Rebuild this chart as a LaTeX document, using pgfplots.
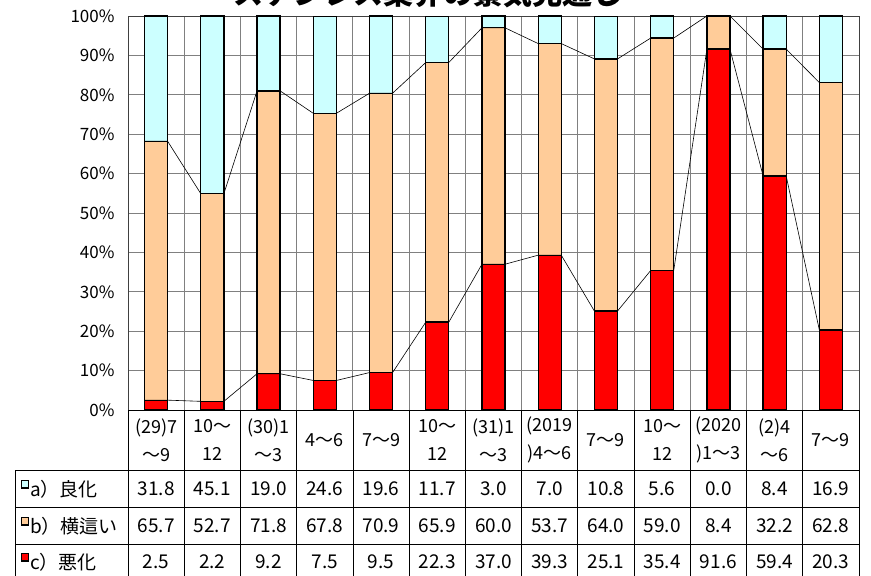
\documentclass[border=0pt]{standalone}
\usepackage{fontspec}
\setmainfont{Noto Sans CJK JP}
\usepackage{pgfplots}
\pgfplotsset{compat=1.18}
\usepackage{pgfplotstable}
\definecolor{ca}{HTML}{CCFFFF}
\definecolor{cb}{HTML}{FFCC99}
\definecolor{cc}{HTML}{FF0000}
\definecolor{gridc}{HTML}{808080}
\definecolor{axc}{HTML}{404040}

\pgfplotstableread{
x c b a
0 2.5 65.7 31.8
1 2.2 52.7 45.1
2 9.2 71.8 19.0
3 7.5 67.8 24.6
4 9.5 70.9 19.6
5 22.3 65.9 11.7
6 37.0 60.0 3.0
7 39.3 53.7 7.0
8 25.1 64.0 10.8
9 35.4 59.0 5.6
10 91.6 8.4 0.0
11 59.4 32.2 8.4
12 20.3 62.8 16.9
}\data

\pgfplotstableread{
x c b
-0.205 2.5 65.7
0.205 2.5 65.7
0.795 2.2 52.7
1.205 2.2 52.7
1.795 9.2 71.8
2.205 9.2 71.8
2.795 7.5 67.8
3.205 7.5 67.8
3.795 9.5 70.9
4.205 9.5 70.9
4.795 22.3 65.9
5.205 22.3 65.9
5.795 37.0 60.0
6.205 37.0 60.0
6.795 39.3 53.7
7.205 39.3 53.7
7.795 25.1 64.0
8.205 25.1 64.0
8.795 35.4 59.0
9.205 35.4 59.0
9.795 91.6 8.4
10.205 91.6 8.4
10.795 59.4 32.2
11.205 59.4 32.2
11.795 20.3 62.8
12.205 20.3 62.8
}\lines

\begin{document}
\begin{tikzpicture}[x=1pt,y=1pt]
\pgfplotsset{
  common/.style={
    at={(128pt,-410pt)}, anchor=south west,
    scale only axis, width=731pt, height=394pt,
    xmin=-0.5, xmax=12.5, ymin=0, ymax=100,
  }
}
\begin{axis}[
  common,
  ybar stacked, bar width=0.41,
  ytick={0,10,...,100},
  yticklabels={0\%,10\%,20\%,30\%,40\%,50\%,60\%,70\%,80\%,90\%,100\%},
  xtick={0,...,12},
  xticklabels={{(29)7\\～9},{10～\\12},{(30)1\\～3},{4～6},{7～9},{10～\\12},{(31)1\\～3},{(2019\\)4～6},{7～9},{10～\\12},{(2020\\)1～3},{(2)4\\～6},{7～9}},
  minor xtick={0.5,1.5,...,11.5},
  xminorgrids=true, ymajorgrids=true,
  major tick length=0pt, minor tick length=0pt,
  grid style={gridc, line width=0.9pt},
  minor grid style={gridc, line width=0.9pt},
  axis line style={axc, line width=1pt},
  /pgf/number format/assume math mode=true,
  y tick label style={font=\fontsize{17}{18}\selectfont, xshift=-10pt},
  x tick label style={font=\fontsize{18}{28}\selectfont, align=center, anchor=center, yshift=-30pt},
  every axis plot/.append style={draw=black, line width=1.3pt},
  clip=false,
]
\addplot[fill=cc] table[x=x, y=c] {\data};
\addplot[fill=cb] table[x=x, y=b] {\data};
\addplot[fill=ca] table[x=x, y=a] {\data};
\end{axis}
\begin{axis}[
  common, axis lines=none, ticks=none, stack plots=y,
]
\addplot[black, line width=0.6pt, mark=none] table[x=x, y=c] {\lines};
\addplot[black, line width=0.6pt, mark=none] table[x=x, y=b] {\lines};
\end{axis}
% title
\node[anchor=base, font=\fontsize{30}{32}\selectfont\bfseries] at (428,-4.5) {ステンレス業界の景気見通し};
% table grid
\foreach \k in {0,...,13} {
  \draw[black, line width=0.8pt] ({128+56.23*\k},-410) -- ({128+56.23*\k},-580);
}
\draw[black, line width=0.8pt] (15.7,-470) -- (15.7,-580);
\foreach \yy in {-470,-507.3,-544.3} {
  \draw[black, line width=0.8pt] (15.7,\yy) -- (859,\yy);
}
\draw[black, line width=1pt] (128,-410) -- (859,-410);
% row headers
\begin{scope}[font=\fontsize{19}{20}\selectfont]
\foreach \yy/\col/\lab in {-489/ca/a）良化, -526/cb/b）横這い, -562/cc/c）悪化} {
  \filldraw[fill=\col, draw=black, line width=1.3pt] (21.7,\yy+1) rectangle (28.3,\yy+8.5);
  \node[anchor=west, inner sep=0pt] at (30,\yy) {\lab};
}
\foreach \v [count=\i from 0] in {31.8,45.1,19.0,24.6,19.6,11.7,3.0,7.0,10.8,5.6,0.0,8.4,16.9}
  \node at ({156.1+56.23*\i},-489) {\v};
\foreach \v [count=\i from 0] in {65.7,52.7,71.8,67.8,70.9,65.9,60.0,53.7,64.0,59.0,8.4,32.2,62.8}
  \node at ({156.1+56.23*\i},-526) {\v};
\foreach \v [count=\i from 0] in {2.5,2.2,9.2,7.5,9.5,22.3,37.0,39.3,25.1,35.4,91.6,59.4,20.3}
  \node at ({156.1+56.23*\i},-562) {\v};
\end{scope}
\pgfresetboundingbox
\path[use as bounding box] (0,0) rectangle (871,-576);
\end{tikzpicture}
\end{document}
